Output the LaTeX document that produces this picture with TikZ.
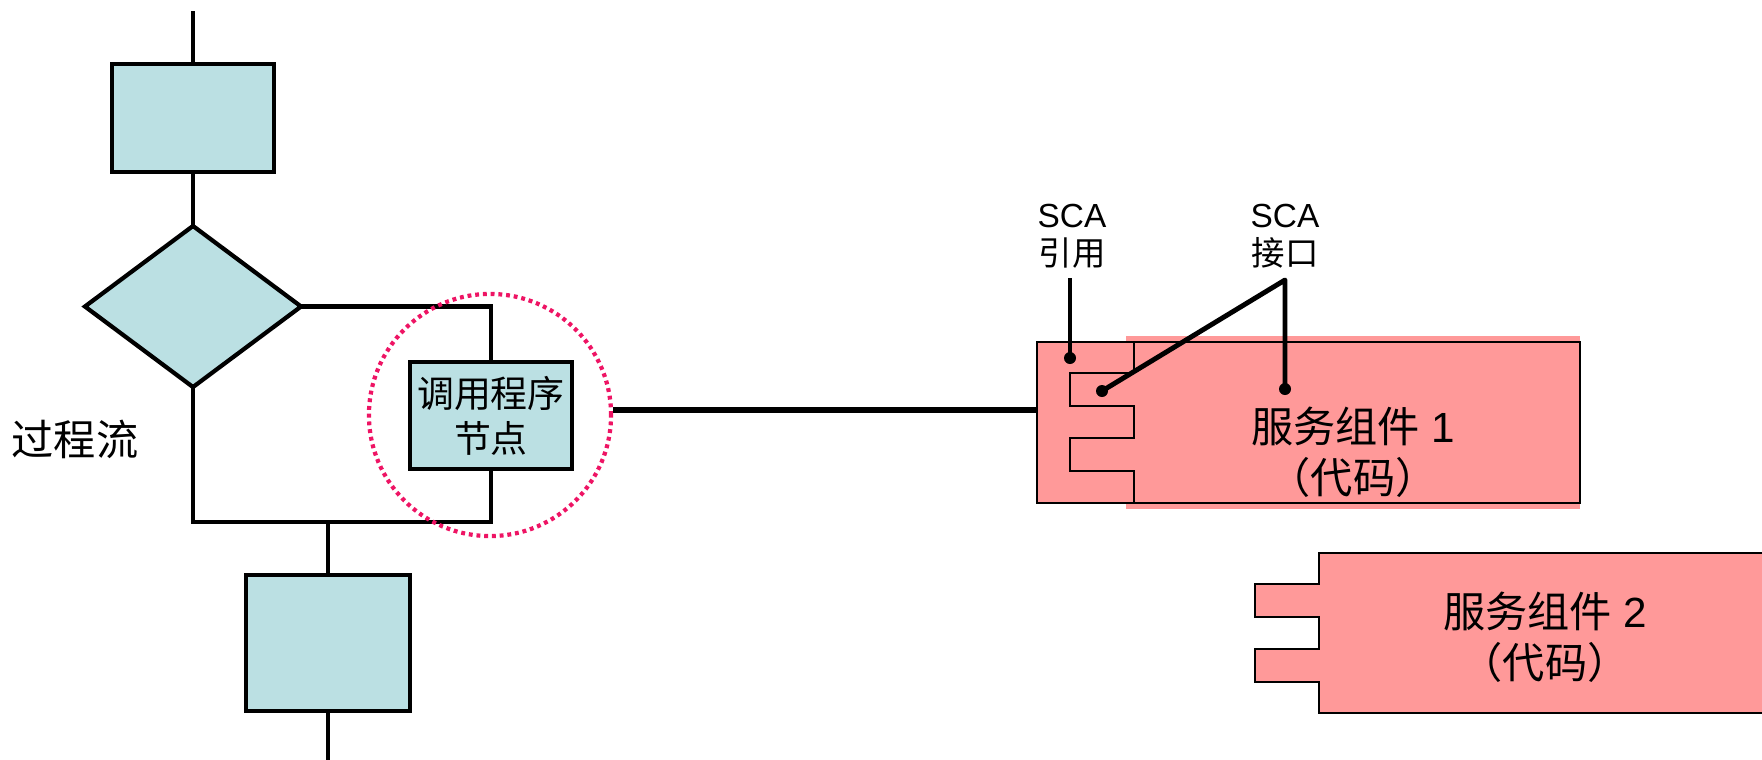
\documentclass[tikz,border=0pt]{standalone}
\usepackage{fontspec}
\setmainfont{Liberation Sans}
\newfontfamily\cjk{Noto Sans CJK SC}
\usetikzlibrary{shapes.geometric,calc}
\definecolor{flowfill}{RGB}{187,224,227}
\definecolor{compfill}{RGB}{255,153,153}
\definecolor{ringcol}{RGB}{238,20,100}
\begin{document}
\begin{tikzpicture}[x=0.01cm,y=-0.01cm,
  flow/.style={line width=1.2pt},
  flowbox/.style={draw, fill=flowfill, line width=1.2pt, inner sep=0pt, outer sep=0pt},
  compline/.style={line width=0.6pt},
  sca/.style={line width=1.4pt, line join=round},
  dot/.style={circle, fill=black, minimum size=0.12cm, inner sep=0pt},
  cjkbig/.style={font=\fontsize{12pt}{14.5pt}\selectfont, align=center},
  cjkbox/.style={font=\cjk\fontsize{10.5pt}{12.8pt}\selectfont, align=center},
  scalabel/.style={font=\fontsize{9.5pt}{10.8pt}\selectfont, align=center}]
\useasboundingbox (0,0) rectangle (1762,760);

% process flow
\coordinate (top) at (193,11);
\node[flowbox, minimum width=1.62cm, minimum height=1.08cm] (boxA) at (193,118) {};
\node[flowbox, diamond, minimum width=2.16cm, minimum height=1.61cm] (dec) at (193,306.5) {};
\node[flowbox, cjkbox, minimum width=1.62cm, minimum height=1.07cm] (call) at (491,415.5) {调用程序\\节点};
\coordinate (join) at (328,522);
\node[flowbox, minimum width=1.64cm, minimum height=1.36cm] (boxB) at (328,643) {};
\coordinate (bottom) at (328,760);

\draw[flow] (top) -- (boxA.north);
\draw[flow] (boxA.south) -- (dec.north);
\draw[flow] (dec.east) -| (call.north);
\draw[flow] (call.south) |- (dec.south |- join) -- (dec.south);
\draw[flow] (join) -- (boxB.north);
\draw[flow] (boxB.south) -- (bottom);

\node[font=\cjk\fontsize{12pt}{14pt}\selectfont] (flowlabel) at (75,439) {过程流};

% highlight ring
\node[circle, draw=ringcol, line width=1.2pt, dash pattern=on 1.1pt off 1.1pt, minimum size=2.42cm, inner sep=0pt] (ring) at (490,415) {};

% component 1
\node[fill=compfill, minimum width=4.54cm, minimum height=1.73cm, inner sep=0pt] (c1back) at (1353,422.5) {};
\node[draw, fill=compfill, compline, minimum width=5.43cm, minimum height=1.61cm, inner sep=0pt] (c1) at (1308.5,422.5) {};
\draw[compline] (1134,342) -- (1134,373) -- (1070,373) -- (1070,406) -- (1134,406) -- (1134,438)
  -- (1070,438) -- (1070,471) -- (1134,471) -- (1134,503);
\node[cjkbig] (c1text) at (1353,452) {{\cjk 服务组件} 1\\{\cjk （代码）}};

\coordinate (link) at (0,410);
\draw[line width=1.7pt] (ring.east |- link) -- (c1.west |- link);

% SCA labels
\node[scalabel] (refl) at (1072,236) {SCA\\{\cjk 引用}};
\node[scalabel] (ifl) at (1285,236) {SCA\\{\cjk 接口}};
\coordinate (refend) at (1070,278);
\node[dot] (refdot) at (1070,358) {};
\draw[sca] (refend) -- (refdot.center);
\coordinate (apex) at (1285,280);
\node[dot] (ifdot1) at (1102,391) {};
\node[dot] (ifdot2) at (1285,389) {};
\draw[sca] (ifdot1.center) -- (apex) -- (ifdot2.center);

% component 2
\fill[compfill] (1762,553) -- (1319,553) -- (1319,584) -- (1255,584) -- (1255,617) -- (1319,617)
  -- (1319,649) -- (1255,649) -- (1255,682) -- (1319,682) -- (1319,713) -- (1762,713) -- cycle;
\draw[compline] (1762,553) -- (1319,553) -- (1319,584) -- (1255,584) -- (1255,617) -- (1319,617)
  -- (1319,649) -- (1255,649) -- (1255,682) -- (1319,682) -- (1319,713) -- (1762,713);
\node[cjkbig] (c2text) at (1545,637) {{\cjk 服务组件} 2\\{\cjk （代码）}};
\end{tikzpicture}
\end{document}
